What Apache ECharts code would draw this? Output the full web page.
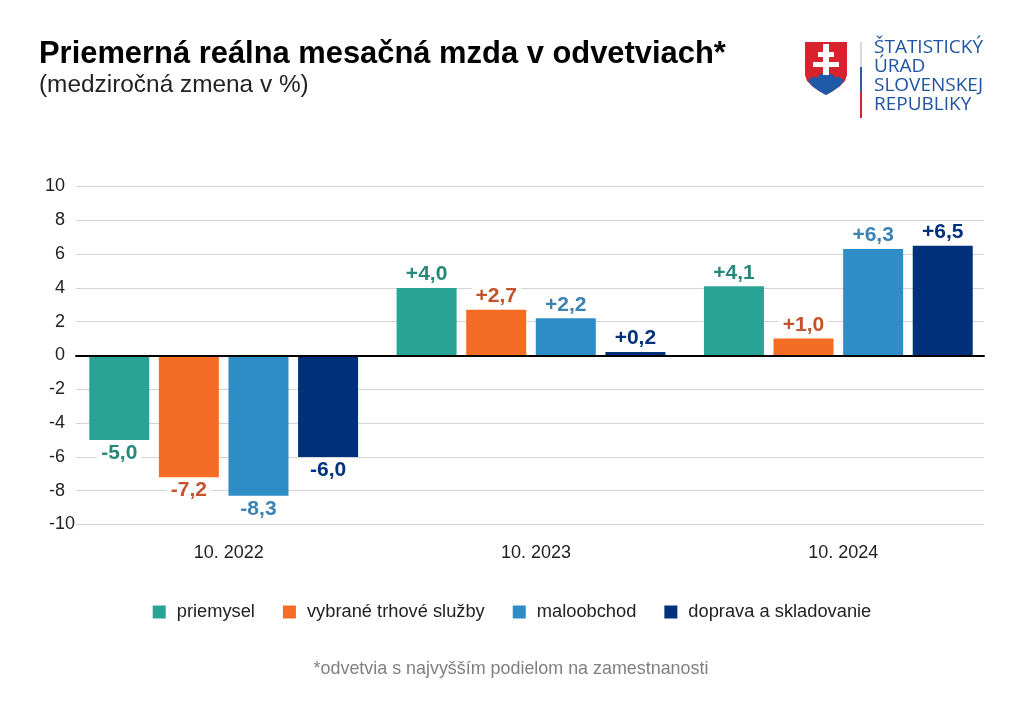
<!DOCTYPE html>
<html><head><meta charset="utf-8">
<style>html,body{margin:0;padding:0;background:#fff}#c{width:1024px;height:713px}</style>
<script src="https://cdn.jsdelivr.net/npm/echarts@6/dist/echarts.min.js"></script>
</head><body><div id="c"></div>
<script>
const categories = ['10. 2022', '10. 2023', '10. 2024'];
const priemysel = [-5.0, 4.0, 4.1];
const sluzby = [-7.2, 2.7, 1.0];
const maloobchod = [-8.3, 2.2, 6.3];
const doprava = [-6.0, 0.2, 6.5];
const seriesNames = ['priemysel', 'vybrané trhové služby', 'maloobchod', 'doprava a skladovanie'];
const barColors = ['#29a396', '#f56c25', '#2e8cc6', '#00317a'];
const labelColors = ['#25897a', '#c2532b', '#3c82b2', '#00317a'];
const FONT = '"Liberation Sans", Arial, sans-serif';
const fmt = p => (p.value > 0 ? '+' : '') + p.value.toFixed(1).replace('.', ',');

const chart = echarts.init(document.getElementById('c'), null, {renderer: 'canvas'});
const values = [priemysel, sluzby, maloobchod, doprava];
const tickLabel = {fontSize: 18, color: '#222', fontFamily: FONT, padding: [3, 0, 0, 0]};
chart.setOption({
  animation: false,
  backgroundColor: '#fff',
  textStyle: {fontFamily: FONT},
  legend: {
    left: 'center', top: 598, icon: 'rect', itemWidth: 13, itemHeight: 13, itemGap: 28,
    textStyle: {fontSize: 18.3, color: '#222', fontFamily: FONT, padding: [0, 0, 0, 6]},
    data: seriesNames
  },
  grid: [
    {left: 70, right: 32, top: 186.5, height: 338},
    {left: 76, right: 40, top: 186.5, height: 338}
  ],
  xAxis: [
    {type: 'category', gridIndex: 0, data: categories, position: 'bottom',
     axisLine: {show: false}, axisTick: {show: false},
     axisLabel: {fontSize: 18, color: '#222', margin: 20, fontFamily: FONT, padding: [0, 0, 0, 10]}},
    {type: 'category', gridIndex: 1, data: categories, z: 5,
     axisLine: {show: true, onZero: true, lineStyle: {color: '#000', width: 2}},
     axisTick: {show: false}, axisLabel: {show: false}}
  ],
  yAxis: [
    {type: 'value', gridIndex: 0, min: -10, max: 10, interval: 2, show: false, splitLine: {show: false}},
    {type: 'value', gridIndex: 1, position: 'left', min: -10, max: 10, interval: 2,
     axisLine: {show: false}, axisTick: {show: false},
     axisLabel: {...tickLabel, margin: 11, formatter: v => v === -10 ? '' : String(v)},
     splitLine: {show: true, lineStyle: {color: '#d4d4d4', width: 1}}},
    {type: 'value', gridIndex: 1, position: 'left', min: -10, max: 10, interval: 2,
     axisLine: {show: false}, axisTick: {show: false}, splitLine: {show: false},
     axisLabel: {...tickLabel, margin: 1, formatter: v => v === -10 ? String(v) : ''}}
  ],
  series: seriesNames.map((name, i) => ({
    name, type: 'bar', xAxisIndex: 0, yAxisIndex: 0, data: values[i],
    barWidth: 60, barGap: '16%',
    itemStyle: {color: barColors[i]},
    label: {show: true, position: 'outside', distance: 3, formatter: fmt,
      fontSize: 21, fontWeight: 'bold', color: labelColors[i], fontFamily: FONT,
      backgroundColor: '#fff', padding: [0, 4]}
  })),
  graphic: {elements: [
    {type: 'text', x: 39, y: 39, style: {text: 'Priemerná reálna mesačná mzda v odvetviach*', fill: '#000', font: 'bold 30.9px ' + FONT}},
    {type: 'text', x: 39, y: 73, style: {text: '(medziročná zmena v %)', fill: '#222', font: '24.4px ' + FONT}},
    {type: 'text', x: 511, y: 660, style: {text: '*odvetvia s najvyšším podielom na zamestnanosti', align: 'center', fill: '#7f7f7f', font: '17.9px ' + FONT}},
    {type: 'polygon', shape: {points: [[805,42],[847,42],[847,75],[845,81],[840,86],[833,91],[826,95],[819,91],[812,86],[807,81],[805,75]]}, style: {fill: '#d8232f'}},
    {type: 'polygon', shape: {points: [[808,80],[811,78],[814,76.5],[817,78],[819,75],[823,73],[826,72.5],[829,73],[833,75],[835,78],[838,76.5],[841,78],[844,80],[840,86],[833,91],[826,95],[819,91],[812,86]]}, style: {fill: '#1f5aa8'}},
    {type: 'polygon', shape: {points: [[823,44],[829,44],[829,52],[834,52],[834,57],[829,57],[829,62],[839,62],[839,67],[829,67],[829,75],[823,75],[823,67],[813,67],[813,62],[823,62],[823,57],[818,57],[818,52],[823,52]]}, style: {fill: '#fff'}},
    {type: 'rect', shape: {x: 860, y: 42, width: 2, height: 25}, style: {fill: '#d4d8d8'}},
    {type: 'rect', shape: {x: 860, y: 67, width: 2, height: 25}, style: {fill: '#2a5fa8'}},
    {type: 'rect', shape: {x: 860, y: 92, width: 2, height: 26}, style: {fill: '#d8232f'}},
    {type: 'text', x: 874, y: 38, style: {text: 'ŠTATISTICKÝ', fill: '#1f55a0', font: '19px "Open Sans"'}},
    {type: 'text', x: 874, y: 57, style: {text: 'ÚRAD', fill: '#1f55a0', font: '19px "Open Sans"'}},
    {type: 'text', x: 874, y: 76, style: {text: 'SLOVENSKEJ', fill: '#1f55a0', font: '19px "Open Sans"'}},
    {type: 'text', x: 874, y: 95, style: {text: 'REPUBLIKY', fill: '#1f55a0', font: '19px "Open Sans"'}}
  ]}
});
</script></body></html>
